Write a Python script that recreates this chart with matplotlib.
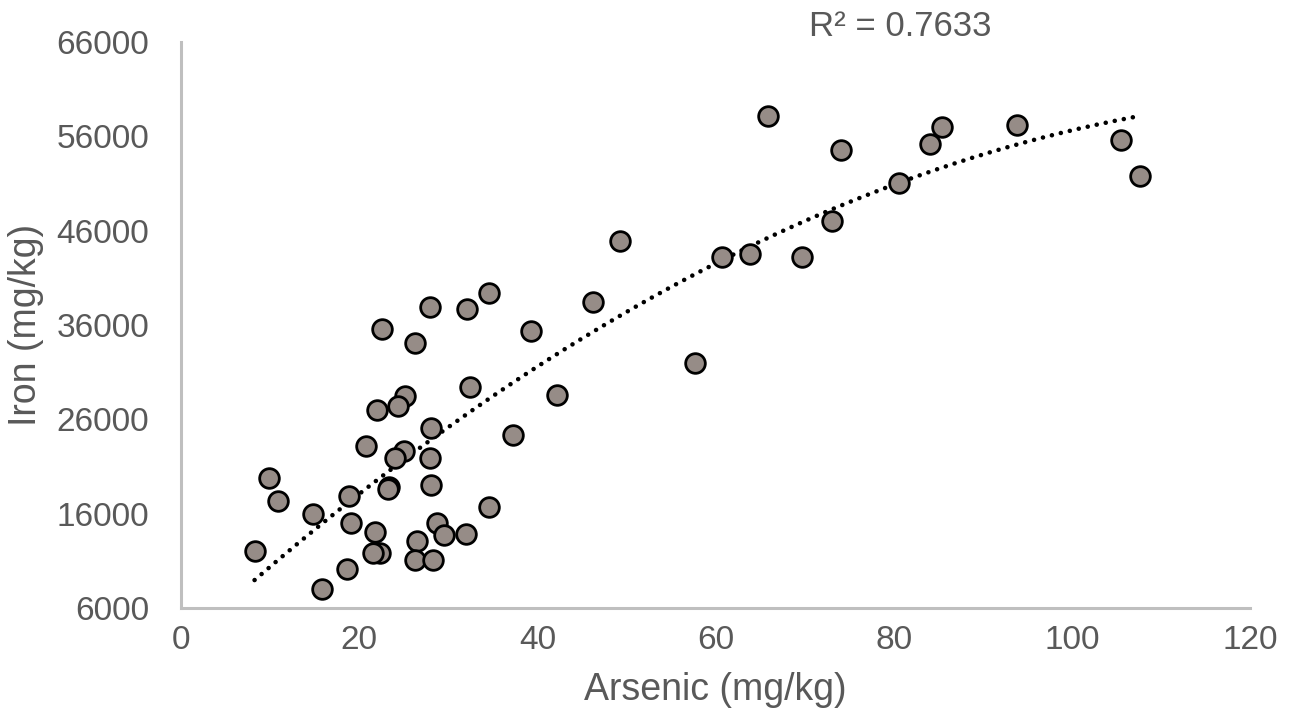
import numpy as np
import matplotlib
matplotlib.use("Agg")
import matplotlib.pyplot as plt

plt.rcParams['font.family'] = ['Liberation Sans', 'DejaVu Sans']

# Arsenic and iron concentrations (mg/kg) for each soil sample
arsenic = [
    34.6, 27.9, 32.1, 22.55, 39.3, 26.25, 32.4, 42.2, 25.2, 24.35,
    21.96, 28.05, 37.28, 20.73, 25.02, 23.98, 27.9, 9.86, 28.05, 23.34,
    23.2, 10.9, 18.86, 14.79, 34.62, 19.08, 28.72, 29.55, 31.97, 21.74,
    26.44, 8.26, 22.3, 21.55, 26.25, 28.27, 18.68, 15.83,
    65.88, 85.38, 84.03, 93.9, 105.55, 107.7, 74.06, 80.56, 73.05, 63.87,
    60.73, 69.7, 57.7, 49.3, 46.27,
]
iron = [
    39440, 37890, 37710, 35580, 35400, 34060, 29380, 28590, 28450, 27390,
    27035, 25120, 24330, 23160, 22600, 21930, 21930, 19830, 19055, 18800,
    18630, 17310, 17920, 15970, 16750, 14970, 14970, 13770, 13840, 14010,
    13050, 12065, 11880, 11880, 11075, 11075, 10120, 7990,
    58140, 56970, 55160, 57180, 55580, 51750, 54520, 51010, 47070, 43560,
    43240, 43240, 31960, 44940, 38450,
]
x_ticks = [0, 20, 40, 60, 80, 100, 120]
y_ticks = [6000, 16000, 26000, 36000, 46000, 56000, 66000]
r2_label = "R² = 0.7633"

fig = plt.figure(figsize=(12.9, 7.25), dpi=100)
ax = fig.add_axes([0.1403, 0.1614, 0.8287, 0.7806])

# second-order polynomial trendline, drawn as round dots
coef = np.polyfit(arsenic, iron, 2)
xs = np.linspace(min(arsenic), max(arsenic), 400)
ax.plot(xs, np.polyval(coef, xs), color='black', linestyle=(0, (0.01, 2.0)),
        linewidth=3.3, dash_capstyle='round', zorder=2)

ax.scatter(arsenic, iron, s=200, facecolor='#968c87', edgecolor='black',
           linewidth=2.0, zorder=3)

ax.set_xlim(0, 120)
ax.set_ylim(6000, 66000)
ax.set_xticks(x_ticks)
ax.set_yticks(y_ticks)
ax.tick_params(axis='both', length=0, labelsize=24, labelcolor='#595959', pad=12)
ax.tick_params(axis='y', pad=23)

for side in ('top', 'right'):
    ax.spines[side].set_visible(False)
for side in ('left', 'bottom'):
    ax.spines[side].set_color('#bfbfbf')
    ax.spines[side].set_linewidth(2.2)

ax.set_xlabel("Arsenic (mg/kg)", fontsize=27, color='#595959', labelpad=12)
ax.set_ylabel("Iron (mg/kg)", fontsize=27, color='#595959')
ax.yaxis.set_label_coords(-0.128, 0.5)

fig.text(900 / 1290, 1 - 27 / 725, r2_label, fontsize=25, color='#595959',
         ha='center', va='center')

fig.savefig("out.png", dpi=100, facecolor='white')
